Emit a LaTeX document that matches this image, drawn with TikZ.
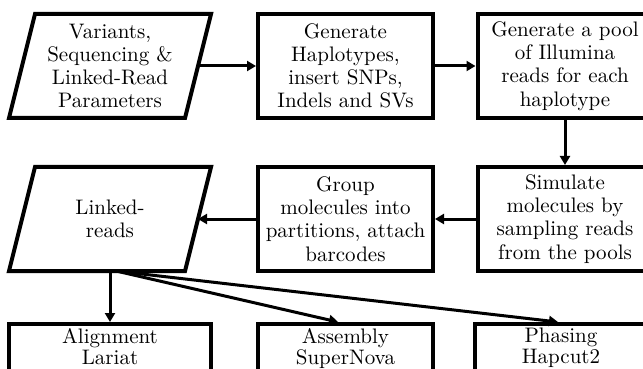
\documentclass[tikz,border=0pt]{standalone}
\usepackage{tikz}
\usetikzlibrary{arrows.meta,positioning,calc}

\begin{document}
\begin{tikzpicture}[x=0.5pt,y=-0.5pt,
    txt/.style={font=\fontsize{10.5}{11.6}\selectfont,align=center},
    stepbox/.style={draw,line width=2pt,txt,minimum width=87.5pt,minimum height=52pt,inner sep=2pt},
    toolbox/.style={draw,line width=2pt,font=\fontsize{10.5}{10.5}\selectfont,align=center,
      anchor=north,inner xsep=2pt,inner ysep=2pt,text depth=20pt},
    iobox/.style={txt,minimum width=88pt,minimum height=52pt,inner sep=0pt,outer sep=0pt},
    flow/.style={line width=1.5pt,-{Triangle[length=4.5pt,width=5pt]}}]
  \useasboundingbox (0,0) rectangle (643,369);
  \clip (0,0) rectangle (643,369);
  % Input parameters
  \node[iobox] (params) at (110,66) {Variants,\\Sequencing \&\\Linked-Read\\Parameters};
  \draw[line width=2pt] ($(params.north west)+(13,0)$) -- ($(params.north east)+(13,0)$)
    -- ($(params.south east)+(-13,0)$) -- ($(params.south west)+(-13,0)$) -- cycle;
  % Simulation steps
  \node[stepbox] (haplo) at (345.5,66) {Generate\\Haplotypes,\\insert SNPs,\\Indels and SVs};
  \node[stepbox] (pool) at (565,66) {Generate a pool\\of Illumina\\reads for each\\haplotype};
  \node[stepbox] (simmol) at (565,219) {Simulate\\molecules by\\sampling reads\\from the pools};
  \node[stepbox] (group) at (345.5,219) {Group\\molecules into\\partitions, attach\\barcodes};
  % Output
  \node[iobox] (linked) at (110,219) {Linked-\\reads};
  \draw[line width=2pt] ($(linked.north west)+(13,0)$) -- ($(linked.north east)+(13,0)$)
    -- ($(linked.south east)+(-13,0)$) -- ($(linked.south west)+(-13,0)$) -- cycle;
  % Downstream tools
  \node[toolbox,minimum width=101pt] (align) at (110,322) {Alignment\\Lariat};
  \node[toolbox,minimum width=87.5pt] (assembly) at (345.5,322) {Assembly\\SuperNova};
  \node[toolbox,minimum width=86pt] (phasing) at (561,322) {Phasing\\Hapcut2};
  % Arrows
  \draw[flow] (params) -- (haplo);
  \draw[flow] (haplo) -- (pool);
  \draw[flow] (pool) -- (simmol);
  \draw[flow] (simmol) -- (group);
  \draw[flow] (group) -- (linked);
  \draw[flow] (linked.south) -- (align.north);
  \draw[flow] ($(linked.south)+(6,0)$) -- ($(assembly.north west)+(82,0)$);
  \draw[flow] ($(linked.south)+(6,0)$) -- ($(phasing.north west)+(85,0)$);
\end{tikzpicture}
\end{document}
